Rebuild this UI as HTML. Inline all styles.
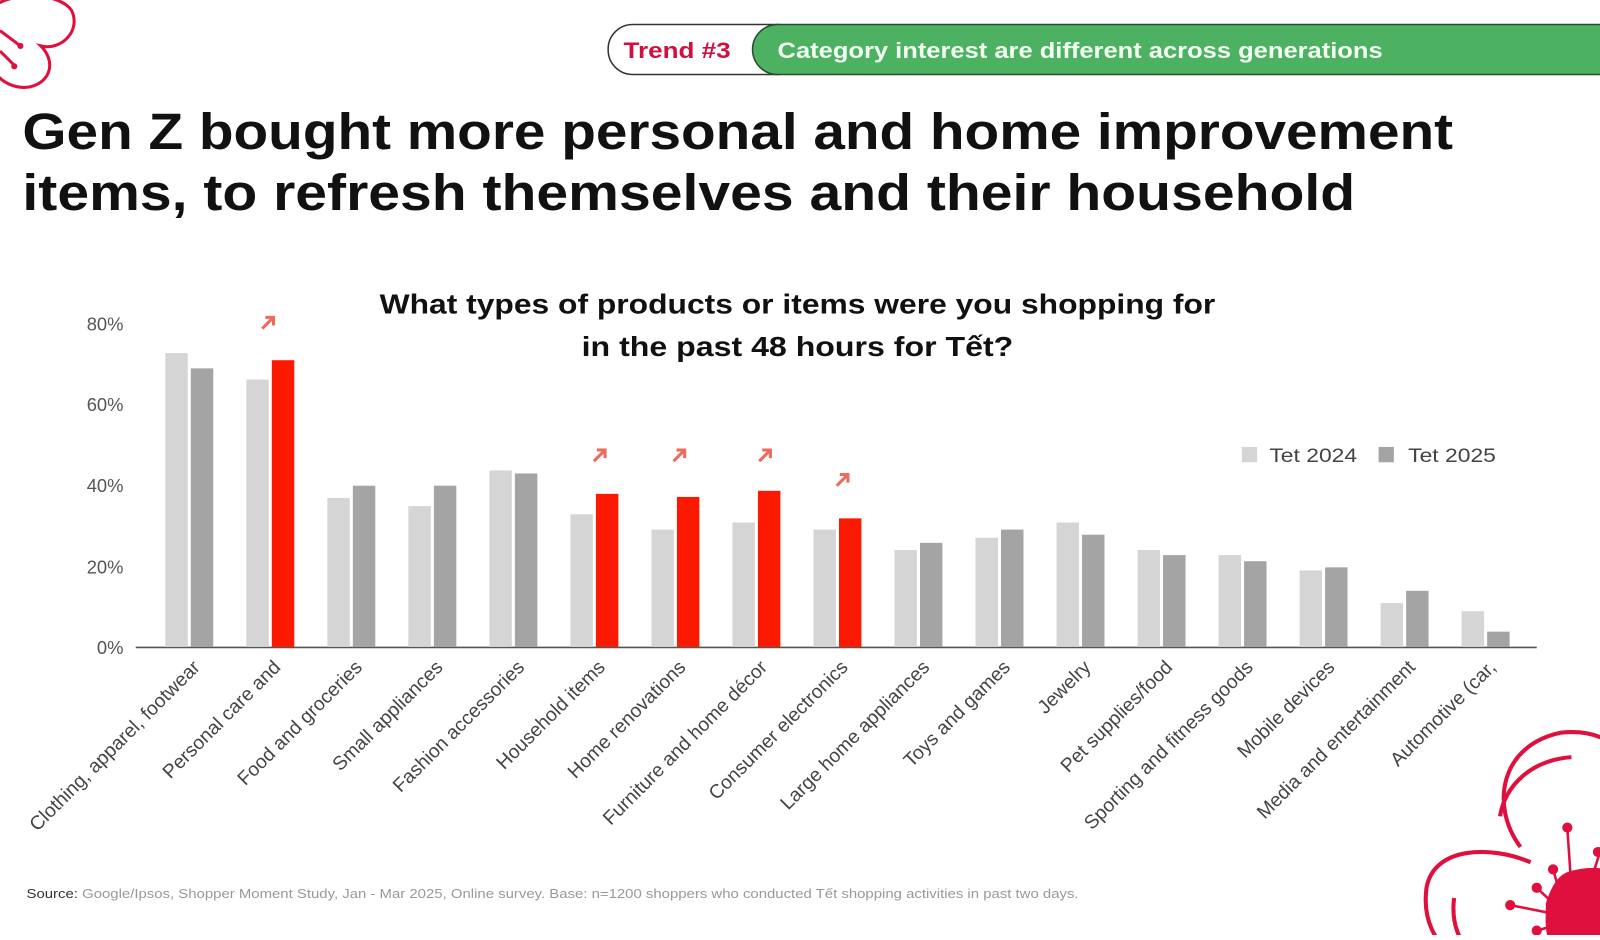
<!DOCTYPE html>
<html><head><meta charset="utf-8"><style>
body{margin:0;width:1600px;height:935px;background:#fff;overflow:hidden;font-family:"Liberation Sans",sans-serif}
</style></head><body>
<svg width="1600" height="935" viewBox="0 0 1568 916.3" xmlns="http://www.w3.org/2000/svg" font-family="Liberation Sans, sans-serif">
<!-- top-left flower -->
<g fill="none" stroke="#e0103e" stroke-width="3">
<path d="M-5,5 C20,-10 60,-5 70,10 C80,30 60,50 40,45 C55,60 50,80 30,85 C15,88 0,80 -5,70"/>
<path d="M0,30 L20,45 M0,50 L15,65"/>
</g>
<circle cx="20" cy="45" r="3" fill="#e0103e"/><circle cx="14" cy="65" r="3" fill="#e0103e"/>
<!-- bottom-right flower -->
<g fill="none" stroke="#e0103e" stroke-width="4">
<path d="M1490,830 C1460,790 1470,730 1530,718 C1560,715 1580,725 1590,740"/>
<path d="M1470,800 C1475,770 1500,745 1540,742"/>
<path d="M1500,845 C1460,828 1405,830 1398,870 C1394,900 1405,925 1430,940"/>
<path d="M1425,880 C1422,905 1430,925 1445,935"/>
</g>
<path d="M1535,855 C1555,848 1575,850 1580,855 L1580,935 L1525,935 C1512,920 1515,900 1515,885 C1520,870 1525,860 1535,855Z" fill="#e0103e"/>
<g stroke="#e0103e" stroke-width="2.5"><line x1="1540" y1="870" x2="1536" y2="812"/><line x1="1530" y1="880" x2="1522" y2="852"/><line x1="1525" y1="888" x2="1506" y2="870"/><line x1="1520" y1="895" x2="1480" y2="887"/><line x1="1520" y1="908" x2="1506" y2="912"/><line x1="1560" y1="860" x2="1568" y2="835"/></g>
<g fill="#e0103e"><circle cx="1536" cy="811" r="5"/><circle cx="1522" cy="852" r="5"/><circle cx="1506" cy="870" r="5"/><circle cx="1480" cy="887" r="5"/><circle cx="1506" cy="912" r="5"/><circle cx="1566" cy="835" r="5"/></g>
<!-- banner -->
<rect x="596" y="24" width="190" height="49" rx="24" fill="#fff" stroke="#333" stroke-width="1.5"/>
<text x="611" y="57" font-size="22" font-weight="bold" fill="#d0103e" textLength="105" lengthAdjust="spacingAndGlyphs">Trend #3</text>
<path d="M762,24 L1610,24 L1610,73 L762,73 A24.5,24.5 0 0 1 762,24Z" fill="#4cb262" stroke="#2b4a33" stroke-width="1.5"/>
<text x="762" y="57" font-size="22" font-weight="bold" fill="#f4fff4" textLength="593" lengthAdjust="spacingAndGlyphs">Category interest are different across generations</text>
<!-- title -->
<text x="22" y="146" font-size="50" font-weight="bold" fill="#111" textLength="1402" lengthAdjust="spacingAndGlyphs">Gen Z bought more personal and home improvement</text>
<text x="22" y="206" font-size="50" font-weight="bold" fill="#111" textLength="1306" lengthAdjust="spacingAndGlyphs">items, to refresh themselves and their household</text>
<text x="372" y="307" font-size="27" font-weight="bold" fill="#111" textLength="819" lengthAdjust="spacingAndGlyphs">What types of products or items were you shopping for</text>
<text x="570" y="349" font-size="27" font-weight="bold" fill="#111" textLength="423" lengthAdjust="spacingAndGlyphs">in the past 48 hours for Tết?</text>
<!-- y axis labels -->
<g font-size="18" fill="#555" text-anchor="end">
<text x="121" y="324">80%</text><text x="121" y="403">60%</text><text x="121" y="482">40%</text><text x="121" y="562">20%</text><text x="121" y="641">0%</text>
</g>
<line x1="133" y1="634.5" x2="1506" y2="634.5" stroke="#555" stroke-width="1.5"/>
<!-- bars -->
<g fill="#d5d5d5">
<rect x="162" y="346" width="22" height="288"/>
<rect x="241.4" y="372" width="22" height="262"/>
<rect x="320.8" y="488" width="22" height="146"/>
<rect x="400.2" y="496" width="22" height="138"/>
<rect x="479.6" y="461" width="22" height="173"/>
<rect x="559" y="504" width="22" height="130"/>
<rect x="638.4" y="519" width="22" height="115"/>
<rect x="717.8" y="512" width="22" height="122"/>
<rect x="797.2" y="519" width="22" height="115"/>
<rect x="876.6" y="539" width="22" height="95"/>
<rect x="956" y="527" width="22" height="107"/>
<rect x="1035.4" y="512" width="22" height="122"/>
<rect x="1114.8" y="539" width="22" height="95"/>
<rect x="1194.2" y="544" width="22" height="90"/>
<rect x="1273.6" y="559" width="22" height="75"/>
<rect x="1353" y="591" width="22" height="43"/>
<rect x="1432.4" y="599" width="22" height="35"/>
</g>
<g fill="#a4a4a4">
<rect x="187" y="361" width="22" height="273"/>
<rect x="345.8" y="476" width="22" height="158"/>
<rect x="425.2" y="476" width="22" height="158"/>
<rect x="504.6" y="464" width="22" height="170"/>
<rect x="901.6" y="532" width="22" height="102"/>
<rect x="981" y="519" width="22" height="115"/>
<rect x="1060.4" y="524" width="22" height="110"/>
<rect x="1139.8" y="544" width="22" height="90"/>
<rect x="1219.2" y="550" width="22" height="84"/>
<rect x="1298.6" y="556" width="22" height="78"/>
<rect x="1378" y="579" width="22" height="55"/>
<rect x="1457.4" y="619" width="22" height="15"/>
</g>
<g fill="#fb1a00">
<rect x="266.4" y="353" width="22" height="281"/>
<rect x="584" y="484" width="22" height="150"/>
<rect x="663.4" y="487" width="22" height="147"/>
<rect x="742.8" y="481" width="22" height="153"/>
<rect x="822.2" y="508" width="22" height="126"/>
</g>
<!-- arrows -->
<g stroke="#ee6a5a" stroke-width="3" fill="none">
<path d="M257,322 L268,311 M260,311 L268,311 L268,319"/>
<path d="M582,452 L593,441 M585,441 L593,441 L593,449"/>
<path d="M660,452 L671,441 M663,441 L671,441 L671,449"/>
<path d="M744,452 L755,441 M747,441 L755,441 L755,449"/>
<path d="M820,476 L831,465 M823,465 L831,465 L831,473"/>
</g>
<!-- legend -->
<rect x="1217" y="438" width="15" height="15" fill="#d5d5d5"/>
<text x="1244" y="453" font-size="19" fill="#444" textLength="86" lengthAdjust="spacingAndGlyphs">Tet 2024</text>
<rect x="1351" y="438" width="15" height="15" fill="#a4a4a4"/>
<text x="1380" y="453" font-size="19" fill="#444" textLength="86" lengthAdjust="spacingAndGlyphs">Tet 2025</text>
<!-- x labels -->
<g font-size="19" fill="#444" text-anchor="end">
<text transform="translate(197,655) rotate(-45)">Clothing, apparel, footwear</text>
<text transform="translate(276,655) rotate(-45)">Personal care and</text>
<text transform="translate(356,655) rotate(-45)">Food and groceries</text>
<text transform="translate(435,655) rotate(-45)">Small appliances</text>
<text transform="translate(515,655) rotate(-45)">Fashion accessories</text>
<text transform="translate(594,655) rotate(-45)">Household items</text>
<text transform="translate(673,655) rotate(-45)">Home renovations</text>
<text transform="translate(753,655) rotate(-45)">Furniture and home décor</text>
<text transform="translate(832,655) rotate(-45)">Consumer electronics</text>
<text transform="translate(912,655) rotate(-45)">Large home appliances</text>
<text transform="translate(991,655) rotate(-45)">Toys and games</text>
<text transform="translate(1070,655) rotate(-45)">Jewelry</text>
<text transform="translate(1150,655) rotate(-45)">Pet supplies/food</text>
<text transform="translate(1229,655) rotate(-45)">Sporting and fitness goods</text>
<text transform="translate(1309,655) rotate(-45)">Mobile devices</text>
<text transform="translate(1388,655) rotate(-45)">Media and entertainment</text>
<text transform="translate(1467,655) rotate(-45)">Automotive (car,</text>
</g>
<text x="26" y="880" font-size="13" fill="#999" textLength="1031" lengthAdjust="spacingAndGlyphs"><tspan fill="#333">Source:</tspan> Google/Ipsos, Shopper Moment Study, Jan - Mar 2025, Online survey. Base: n=1200 shoppers who conducted Tết shopping activities in past two days.</text>
</svg>
</body></html>
